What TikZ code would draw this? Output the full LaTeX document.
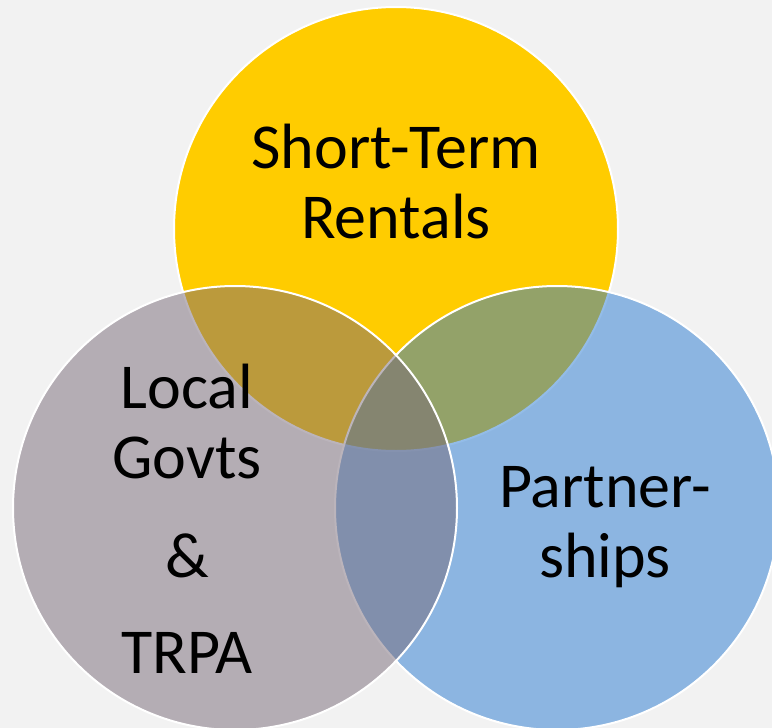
\documentclass[tikz,border=0pt]{standalone}
\usepackage{fontspec}
\setmainfont{Carlito}
\definecolor{rentyellow}{RGB}{255,204,0}
\definecolor{partblue}{RGB}{40,122,210}
\definecolor{govgray}{RGB}{120,106,120}
\definecolor{backgray}{RGB}{242,242,242}
\begin{document}
\begin{tikzpicture}[x=1pt,y=-1pt, line join=round, line cap=round,
    setcircle/.style={circle,draw=white,line width=2pt,inner sep=0pt,minimum size=444pt},
    setlabel/.style={font=\fontsize{64}{70}\selectfont,align=center,anchor=base}]
		\fill[backgray] (0,0) rectangle (772,728);
		\useasboundingbox (0,0) rectangle (772,728);
		% the three sets
		\node[setcircle,fill=rentyellow] (rent) at (396,229) {};
		\node[setcircle,fill=partblue,fill opacity=0.5] (part) at (557,508) {};
		\node[setcircle,fill=govgray,fill opacity=0.5] (gov) at (235,508) {};
		% labels
		\node[setlabel] (rentlbl) at (396,238) {Short-Term\\Rentals};
		\node[setlabel] (partlbl) at (605,577) {Partner-\\ships};
		\node[setlabel] (govlbl) at (187,673) {Local\\Govts\\[29pt]\&\\[26pt]TRPA};
\end{tikzpicture}
\end{document}
